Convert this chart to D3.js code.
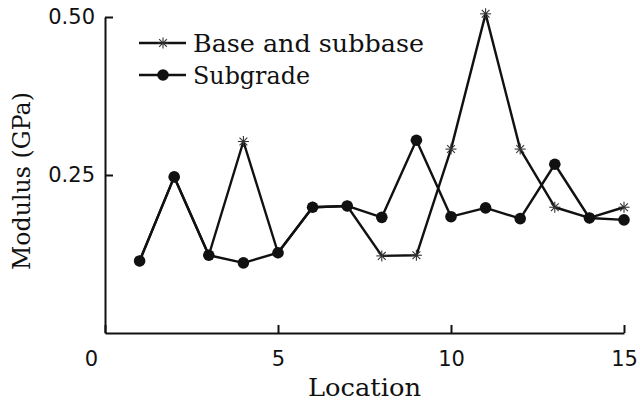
<!DOCTYPE html>
<html>
<head>
<meta charset="utf-8">
<script src="https://cdn.jsdelivr.net/npm/d3@7"></script>
<style>
  html, body { margin: 0; padding: 0; background: #fff; }
  svg { display: block; }
</style>
</head>
<body>
<svg id="chart" width="640" height="407"></svg>
<script>
// Measurement locations and moduli (GPa)
const locations = [1, 2, 3, 4, 5, 6, 7, 8, 9, 10, 11, 12, 13, 14, 15];
const baseSubbase = [0.114, 0.247, 0.123, 0.303, 0.127, 0.199, 0.201, 0.122, 0.123, 0.291, 0.505, 0.291, 0.199, 0.182, 0.199];
const subgrade   = [0.114, 0.247, 0.123, 0.111, 0.127, 0.199, 0.201, 0.183, 0.305, 0.184, 0.198, 0.181, 0.267, 0.182, 0.179];
const xTicks = [0, 5, 10, 15];
const yTicks = [0.25, 0.50];
const seriesNames = ["Base and subbase", "Subgrade"];

const svg = d3.select("#chart");
const serif = "'DejaVu Serif', 'Liberation Serif', serif";
const sans = "'DejaVu Sans', 'Liberation Sans', sans-serif";

const x = d3.scaleLinear().domain([0, 15]).range([105, 624]);
const y = d3.scaleLinear().domain([0, 0.5]).range([333, 17]);

// Axes with inward ticks
const xAxis = svg.append("g")
  .attr("transform", `translate(0,${y(0)})`)
  .call(d3.axisBottom(x).tickValues(xTicks).tickSize(-8).tickSizeOuter(0).tickPadding(18).tickFormat(d3.format("d")));
const yAxis = svg.append("g")
  .attr("transform", `translate(${x(0)},0)`)
  .call(d3.axisLeft(y).tickValues(yTicks).tickSize(-8).tickSizeOuter(0).tickPadding(10).tickFormat(d3.format(".2f")));

[xAxis, yAxis].forEach(g => {
  g.select(".domain").attr("stroke", "#111").attr("stroke-width", 2);
  g.selectAll(".tick line").attr("stroke", "#111").attr("stroke-width", 2);
  g.selectAll(".tick text").attr("fill", "#111").style("font-family", sans).style("font-size", "21px");
});
// the origin label sits left of the corner
xAxis.selectAll(".tick").filter(d => d === 0).select("text").attr("dx", -14);

// Axis titles
svg.append("text")
  .attr("x", (x.range()[0] + x.range()[1]) / 2).attr("y", 396)
  .attr("text-anchor", "middle")
  .attr("textLength", 113).attr("lengthAdjust", "spacingAndGlyphs")
  .style("font-family", serif).style("font-size", "24px").attr("fill", "#111")
  .text("Location");
svg.append("text")
  .attr("transform", "translate(30,181) rotate(-90)")
  .attr("text-anchor", "middle")
  .attr("textLength", 178).attr("lengthAdjust", "spacingAndGlyphs")
  .style("font-family", serif).style("font-size", "24px").attr("fill", "#111")
  .text("Modulus (GPa)");

const line = d3.line().x(d => x(d[0])).y(d => y(d[1]));

function asterisk(g, cx, cy, r) {
  const a = g.append("g").attr("transform", `translate(${cx},${cy})`)
    .attr("stroke", "#333").attr("stroke-width", 1.1);
  [0, 45, 90, 135].forEach(ang => {
    const t = ang * Math.PI / 180;
    a.append("line")
      .attr("x1", -r * Math.cos(t)).attr("y1", -r * Math.sin(t))
      .attr("x2", r * Math.cos(t)).attr("y2", r * Math.sin(t));
  });
}

// Base and subbase series
const basePts = locations.map((l, i) => [l, baseSubbase[i]]);
svg.append("path").datum(basePts).attr("d", line)
  .attr("fill", "none").attr("stroke", "#111").attr("stroke-width", 2.4).attr("stroke-linejoin", "round");
const baseMarks = svg.append("g");
basePts.forEach(p => asterisk(baseMarks, x(p[0]), y(p[1]), 5.5));

// Subgrade series
const subPts = locations.map((l, i) => [l, subgrade[i]]);
svg.append("path").datum(subPts).attr("d", line)
  .attr("fill", "none").attr("stroke", "#111").attr("stroke-width", 2.4).attr("stroke-linejoin", "round");
svg.append("g").selectAll("circle").data(subPts).join("circle")
  .attr("cx", d => x(d[0])).attr("cy", d => y(d[1])).attr("r", 5.8).attr("fill", "#111");

// Legend
const legend = svg.append("g");
const legY = [43, 75];
const legTextLen = [231, 117];
seriesNames.forEach((name, i) => {
  legend.append("line").attr("x1", 139).attr("x2", 186).attr("y1", legY[i]).attr("y2", legY[i])
    .attr("stroke", "#111").attr("stroke-width", 2.4);
  if (i === 0) asterisk(legend, 163, legY[i], 5.5);
  else legend.append("circle").attr("cx", 163).attr("cy", legY[i]).attr("r", 5.8).attr("fill", "#111");
  legend.append("text").attr("x", 193).attr("y", legY[i] + 9)
    .attr("textLength", legTextLen[i]).attr("lengthAdjust", "spacingAndGlyphs")
    .style("font-family", serif).style("font-size", "24px").attr("fill", "#111")
    .text(name);
});
</script>
</body>
</html>
